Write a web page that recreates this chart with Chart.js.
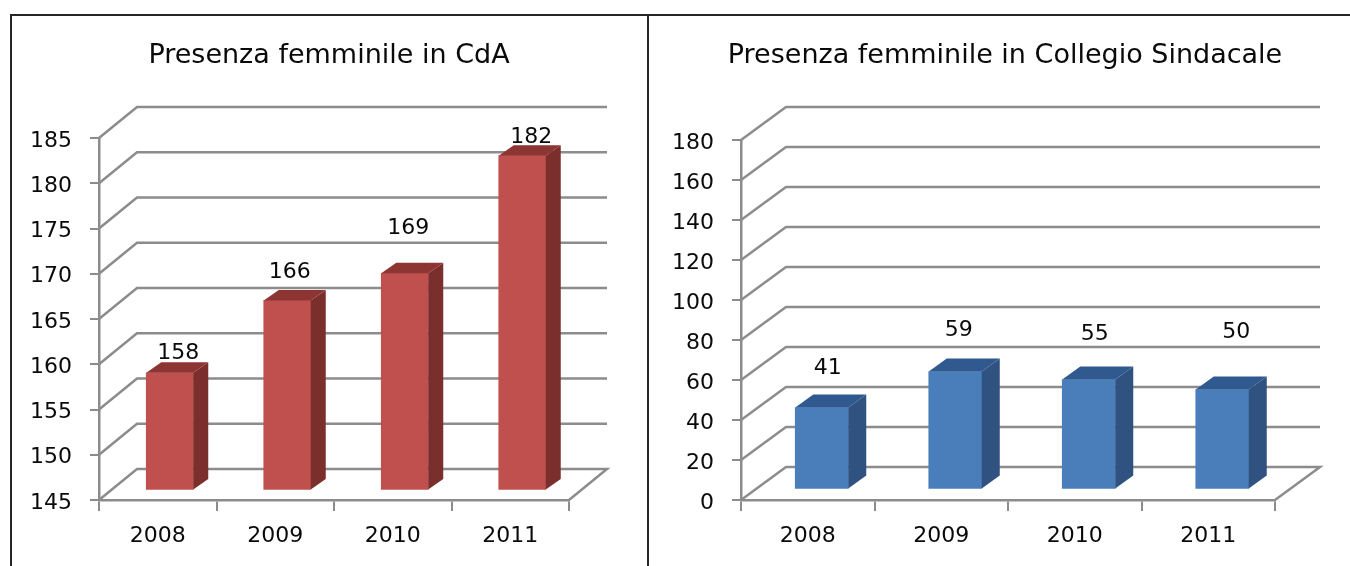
<!DOCTYPE html>
<html>
<head>
<meta charset="utf-8">
<title>Presenza femminile</title>
<script src="https://cdn.jsdelivr.net/npm/chart.js@4/dist/chart.umd.min.js"></script>
<style>
  html, body { margin: 0; padding: 0; background: #fff; overflow: hidden; }
  #page { position: relative; width: 1350px; height: 566px; overflow: hidden; }
  canvas { position: absolute; top: 15px; filter: blur(0.45px); }
  .line { position: absolute; background: #262626; }
</style>
</head>
<body>
<div id="page">
  <canvas id="cda" width="636" height="551" style="left:11px"></canvas>
  <canvas id="sindacale" width="712" height="551" style="left:649px"></canvas>
  <div class="line" style="left:10px;top:14px;width:1340px;height:2px"></div>
  <div class="line" style="left:10px;top:14px;width:2px;height:552px"></div>
  <div class="line" style="left:647px;top:14px;width:2px;height:552px"></div>
</div>
<script>
// Dati
const years = ["2008", "2009", "2010", "2011"];
const cdaValues = [158, 166, 169, 182];
const sindacaleValues = [41, 59, 55, 50];

const FONT = "'DejaVu Sans', sans-serif";
const GRID = "#8c8c8c";
const TEXT = "#0a0a0a";

// Finto 3D: pareti, pavimento, facce dei bar e etichette
const fake3d = {
  id: "fake3d",
  afterLayout(chart) {
    // titolo centrato su tutto il riquadro, non solo sul padding
    chart.titleBlock.left = 0;
    chart.titleBlock.right = chart.width;
  },
  beforeDatasetsDraw(chart, args, o) {
    const { ctx, chartArea: a, scales: { y } } = chart;
    ctx.save();
    ctx.strokeStyle = GRID;
    ctx.lineWidth = 2.5;
    y.ticks.forEach((t) => {
      const py = y.getPixelForValue(t.value);
      ctx.beginPath();
      ctx.moveTo(a.left, py);
      ctx.lineTo(a.left + o.depthX, py - o.depthY);
      ctx.lineTo(a.right + o.depthX, py - o.depthY);
      if (t.value === y.min) ctx.lineTo(a.right, py);
      ctx.stroke();
    });
    ctx.restore();
  },
  beforeDatasetDraw(chart, args, o) {
    chart.ctx.save();
    chart.ctx.translate(o.shiftX, -o.shiftY);
  },
  afterDatasetDraw(chart, args, o) {
    const ctx = chart.ctx;
    args.meta.data.forEach((bar) => {
      const l = bar.x - bar.width / 2;
      const r = bar.x + bar.width / 2;
      ctx.fillStyle = o.sideColor;
      ctx.beginPath();
      ctx.moveTo(r, bar.y);
      ctx.lineTo(r + o.barX, bar.y - o.barY);
      ctx.lineTo(r + o.barX, bar.base - o.barY);
      ctx.lineTo(r, bar.base);
      ctx.fill();
      ctx.fillStyle = o.topColor;
      ctx.beginPath();
      ctx.moveTo(l, bar.y);
      ctx.lineTo(l + o.barX, bar.y - o.barY);
      ctx.lineTo(r + o.barX, bar.y - o.barY);
      ctx.lineTo(r, bar.y);
      ctx.fill();
    });
    ctx.restore();
  },
  afterDraw(chart, args, o) {
    const ctx = chart.ctx;
    const values = chart.data.datasets[0].data;
    ctx.save();
    ctx.fillStyle = TEXT;
    ctx.font = "22px " + FONT;
    ctx.textAlign = "center";
    ctx.textBaseline = "middle";
    chart.getDatasetMeta(0).data.forEach((bar, i) => {
      const px = bar.x + o.shiftX + o.labelX[i];
      const py = bar.y - o.shiftY - o.barY - o.labelLift[i] + 2;
      ctx.fillText(values[i], px, py);
    });
    ctx.restore();
  },
};

function makeChart(id, values, cfg) {
  new Chart(document.getElementById(id), {
    type: "bar",
    plugins: [fake3d],
    data: {
      labels: years,
      datasets: [{
        data: values,
        base: cfg.min,
        backgroundColor: cfg.color,
        barThickness: cfg.barWidth,
        clip: false,
      }],
    },
    options: {
      responsive: false,
      animation: false,
      layout: { padding: { right: cfg.padRight, left: 0, top: 0, bottom: 0 } },
      plugins: {
        legend: { display: false },
        tooltip: { enabled: false },
        title: {
          display: true,
          text: cfg.title,
          color: TEXT,
          font: { family: FONT, size: 27, weight: "normal", lineHeight: 1.2 },
          padding: { top: 24.8, bottom: cfg.areaTop - 57.2 },
        },
        fake3d: cfg.look,
      },
      scales: {
        x: {
          afterFit(s) { s.height = 66; },
          border: { color: GRID, width: 2.5 },
          grid: { drawOnChartArea: false, color: GRID, lineWidth: 2, tickLength: 11 },
          ticks: { color: TEXT, font: { family: FONT, size: 22 }, padding: 12 },
        },
        y: {
          min: cfg.min,
          max: cfg.max,
          afterFit(s) { s.width = cfg.areaLeft; },
          border: { color: GRID, width: 2.5 },
          grid: { drawOnChartArea: false, color: GRID, lineWidth: 2, tickLength: 9 },
          ticks: { stepSize: cfg.step, color: TEXT, font: { family: FONT, size: 22 }, padding: 18, labelOffset: 3 },
        },
      },
    },
  });
}

makeChart("cda", cdaValues, {
  title: "Presenza femminile in CdA",
  color: "#c0504d",
  barWidth: 47,
  min: 145, max: 185, step: 5,
  areaLeft: 88, areaTop: 123, padRight: 78,
  look: {
    depthX: 38, depthY: 31,
    shiftX: 12, shiftY: 9.5,
    barX: 15, barY: 10.5,
    sideColor: "#7b2f2d", topColor: "#8c3533",
    labelX: [8.5, 2.5, 3.5, 9],
    labelLift: [11, 20, 37, 10],
  },
});

makeChart("sindacale", sindacaleValues, {
  title: "Presenza femminile in Collegio Sindacale",
  color: "#4a7ebb",
  barWidth: 53,
  min: 0, max: 180, step: 20,
  areaLeft: 92, areaTop: 125, padRight: 86,
  look: {
    depthX: 45, depthY: 33,
    shiftX: 14, shiftY: 10.5,
    barX: 18, barY: 13,
    sideColor: "#2f5280", topColor: "#30598f",
    labelX: [6, 3.5, 6, 14],
    labelLift: [28, 30, 34, 46],
  },
});
</script>
</body>
</html>
